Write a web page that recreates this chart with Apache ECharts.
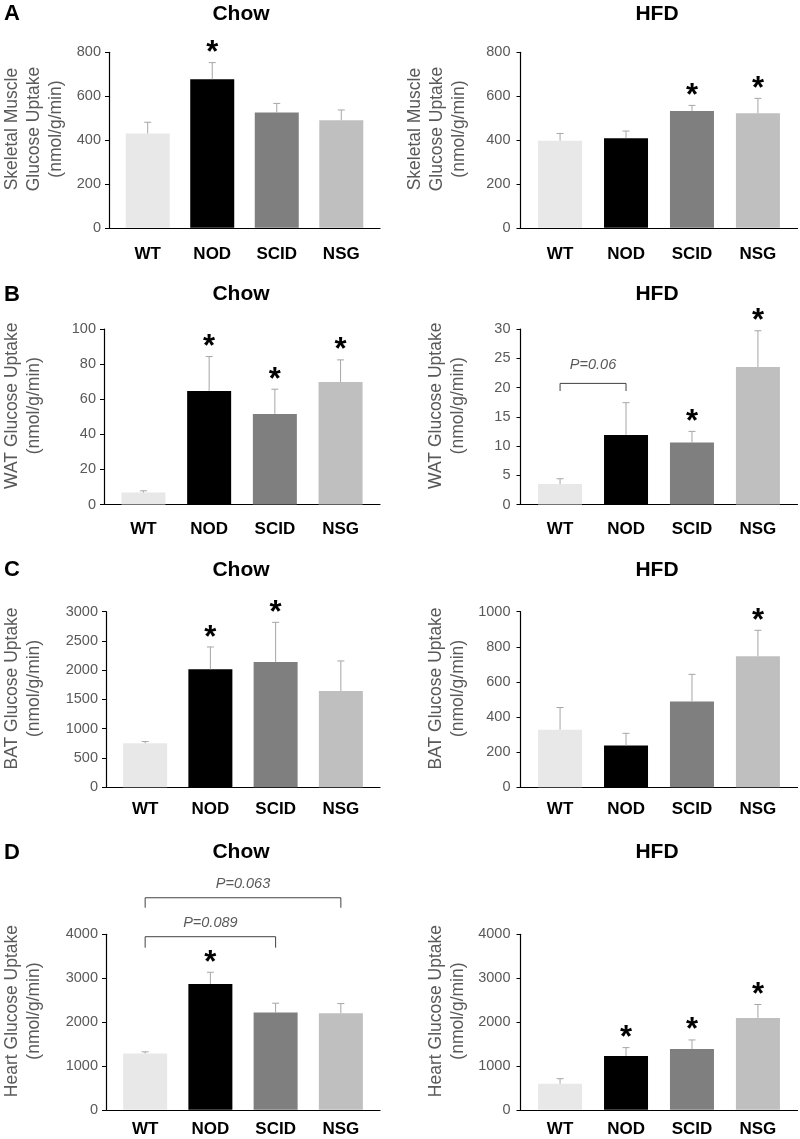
<!DOCTYPE html>
<html><head><meta charset="utf-8">
<script src="https://cdn.jsdelivr.net/npm/echarts@6/dist/echarts.min.js"></script>
<style>html,body{margin:0;padding:0;background:#fff}#c{width:800px;height:1139px}</style>
</head><body><div id="c"></div>
<script>
// ---------- data ----------
const categories = ['WT', 'NOD', 'SCID', 'NSG'];

const muscleChow    = [430, 677, 526, 490];
const muscleChowErr = [51, 76, 41, 47];
const muscleChowSig = [0, 1, 0, 0];
const muscleHFD     = [397, 408, 532, 522];
const muscleHFDErr  = [33, 33, 26, 68];
const muscleHFDSig  = [0, 0, 1, 1];

const watChow    = [6.8, 64.7, 51.6, 69.8];
const watChowErr = [1.0, 19.6, 14.1, 12.6];
const watChowSig = [0, 1, 1, 1];
const watHFD     = [3.5, 11.9, 10.6, 23.5];
const watHFDErr  = [0.9, 5.5, 1.9, 6.2];
const watHFDSig  = [0, 0, 1, 1];

const batChow    = [751, 2015, 2141, 1645];
const batChowErr = [29, 382, 677, 513];
const batChowSig = [0, 1, 1, 0];
const batHFD     = [328, 237, 488, 746];
const batHFDErr  = [126, 70, 155, 148];
const batHFDSig  = [0, 0, 0, 1];

const heartChow    = [1283, 2869, 2216, 2201];
const heartChowErr = [38, 266, 213, 220];
const heartChowSig = [0, 1, 0, 0];
const heartHFD     = [594, 1227, 1387, 2095];
const heartHFDErr  = [115, 190, 205, 305];
const heartHFDSig  = [0, 1, 1, 1];

// brackets: [fromIndex, toIndex, topValue, legValue, label]
const watHFDBrackets   = [[0, 1, 20.7, 19.4, 'P=0.06']];
const heartChowBrackets = [[0, 2, 3945, 3695, 'P=0.089'], [0, 3, 4833, 4606, 'P=0.063']];

const yTicks = {
  muscle: {max: 800, interval: 200},
  watChow: {max: 100, interval: 20},
  watHFD: {max: 30, interval: 5},
  batChow: {max: 3000, interval: 500},
  batHFD: {max: 1000, interval: 200},
  heart: {max: 4000, interval: 1000}
};

// ---------- layout ----------
const FONT = 'Arial, "Liberation Sans", Helvetica, sans-serif';
const barColors = ['#e8e8e8', '#000000', '#7f7f7f', '#bfbfbf'];
const GRID_W = 277, GRID_H = 175.5;
const LEFT_X = 103, RIGHT_X = 520.5;

const panels = [
  {values: muscleChow, err: muscleChowErr, sig: muscleChowSig, ticks: yTicks.muscle, left: LEFT_X, top: 52.3,
   name: 'Skeletal Muscle\nGlucose Uptake\n(nmol/g/min)', nameGap: 42, catMargin: 18, labelMargin: 8},
  {values: muscleHFD, err: muscleHFDErr, sig: muscleHFDSig, ticks: yTicks.muscle, left: RIGHT_X, top: 52.3,
   name: 'Skeletal Muscle\nGlucose Uptake\n(nmol/g/min)', nameGap: 50, catMargin: 18, labelMargin: 10},
  {values: watChow, err: watChowErr, sig: watChowSig, ticks: yTicks.watChow, left: LEFT_X, top: 329,
   name: 'WAT Glucose Uptake\n(nmol/g/min)', nameGap: 59, catMargin: 16, labelMargin: 8},
  {values: watHFD, err: watHFDErr, sig: watHFDSig, ticks: yTicks.watHFD, left: RIGHT_X, top: 329,
   name: 'WAT Glucose Uptake\n(nmol/g/min)', nameGap: 51, catMargin: 16, labelMargin: 10,
   brackets: watHFDBrackets, bracketLabelGap: 18},
  {values: batChow, err: batChowErr, sig: batChowSig, ticks: yTicks.batChow, left: LEFT_X, top: 611.7,
   name: 'BAT Glucose Uptake\n(nmol/g/min)', nameGap: 61, catMargin: 14, labelMargin: 8},
  {values: batHFD, err: batHFDErr, sig: batHFDSig, ticks: yTicks.batHFD, left: RIGHT_X, top: 611.7,
   name: 'BAT Glucose Uptake\n(nmol/g/min)', nameGap: 51, catMargin: 14, labelMargin: 10},
  {values: heartChow, err: heartChowErr, sig: heartChowSig, ticks: yTicks.heart, left: LEFT_X, top: 934.3,
   name: 'Heart Glucose Uptake\n(nmol/g/min)', nameGap: 61, catMargin: 11, labelMargin: 8,
   brackets: heartChowBrackets, bracketLabelGap: 13.5},
  {values: heartHFD, err: heartHFDErr, sig: heartHFDSig, ticks: yTicks.heart, left: RIGHT_X, top: 934.3,
   name: 'Heart Glucose Uptake\n(nmol/g/min)', nameGap: 51, catMargin: 11, labelMargin: 10}
];

const headings = [
  {letter: 'A', y: 14},
  {letter: 'B', y: 294.5},
  {letter: 'C', y: 570},
  {letter: 'D', y: 852.5}
];

const grid = [], xAxis = [], yAxis = [], series = [];
panels.forEach((p, i) => {
  grid.push({left: p.left, top: p.top, width: GRID_W, height: GRID_H, containLabel: false});
  xAxis.push({
    gridIndex: i, type: 'value', min: -0.6, max: 3.6,
    axisLine: {show: true, onZero: false, lineStyle: {color: '#000', width: 1.2}},
    axisTick: {show: false},
    splitLine: {show: false},
    axisLabel: {
      customValues: [0, 1, 2, 3],
      formatter: v => categories[Math.round(v)],
      margin: p.catMargin, color: '#000', fontWeight: 'bold', fontSize: 17, fontFamily: FONT
    }
  });
  yAxis.push({
    gridIndex: i, type: 'value', min: 0, max: p.ticks.max, interval: p.ticks.interval,
    name: p.name, nameLocation: 'middle', nameGap: p.nameGap,
    nameTextStyle: {color: '#595959', fontSize: 17.5, lineHeight: 22, fontFamily: FONT, padding: [0, 0, 0, 22]},
    axisLine: {show: true, onZero: false, lineStyle: {color: '#000', width: 1.2}},
    axisTick: {show: true, length: 4, inside: false, lineStyle: {color: '#000'}},
    splitLine: {show: false},
    axisLabel: {margin: p.labelMargin, color: '#595959', fontSize: 14.5, fontFamily: FONT,
      formatter: v => String(v)}
  });
  series.push({
    type: 'bar', xAxisIndex: i, yAxisIndex: i, barWidth: 44, silent: true,
    data: p.values.map((v, j) => ({value: [j, v], itemStyle: {color: barColors[j]}}))
  });
  series.push({
    type: 'custom', xAxisIndex: i, yAxisIndex: i, silent: true, clip: false, z: 3,
    data: p.values.map((v, j) => [j, v, v + p.err[j], p.sig[j]]),
    renderItem: (params, api) => {
      const x = api.value(0);
      const p0 = api.coord([x, api.value(1)]);
      const p1 = api.coord([x, api.value(2)]);
      const st = {stroke: '#a6a6a6', lineWidth: 1};
      const ch = [
        {type: 'line', shape: {x1: p0[0], y1: p0[1], x2: p1[0], y2: p1[1]}, style: st},
        {type: 'line', shape: {x1: p1[0] - 3.5, y1: p1[1], x2: p1[0] + 3.5, y2: p1[1]}, style: st}
      ];
      if (api.value(3)) {
        ch.push({type: 'text', x: p1[0], y: p1[1] - 9,
          style: {text: '*', font: 'bold 31px ' + FONT, textAlign: 'center', textVerticalAlign: 'middle', fill: '#000'}});
      }
      return {type: 'group', children: ch};
    }
  });
  if (p.brackets) {
    series.push({
      type: 'custom', xAxisIndex: i, yAxisIndex: i, silent: true, clip: false, z: 3,
      data: p.brackets,
      renderItem: (params, api) => {
        const b = p.brackets[params.dataIndex];
        const a1 = api.coord([b[0], b[2]]), a2 = api.coord([b[1], b[2]]);
        const l1 = api.coord([b[0], b[3]]);
        const st = {stroke: '#404040', lineWidth: 1, fill: null};
        return {type: 'group', children: [
          {type: 'polyline', shape: {points: [[a1[0], l1[1]], [a1[0], a1[1]], [a2[0], a2[1]], [a2[0], l1[1]]]}, style: st},
          {type: 'text', x: (a1[0] + a2[0]) / 2, y: a1[1] - p.bracketLabelGap,
           style: {text: b[4], font: 'italic 14.5px ' + FONT, fill: '#595959', textAlign: 'center', textVerticalAlign: 'middle'}}
        ]};
      }
    });
  }
});

const graphic = [];
headings.forEach(h => {
  graphic.push({type: 'text', x: 4, y: h.y, style: {text: h.letter, font: 'bold 22px ' + FONT, fill: '#000', textVerticalAlign: 'middle'}});
  graphic.push({type: 'text', x: 241, y: h.y, style: {text: 'Chow', font: 'bold 21px ' + FONT, fill: '#000', textAlign: 'center', textVerticalAlign: 'middle'}});
  graphic.push({type: 'text', x: 657, y: h.y, style: {text: 'HFD', font: 'bold 21px ' + FONT, fill: '#000', textAlign: 'center', textVerticalAlign: 'middle'}});
});

const chart = echarts.init(document.getElementById('c'), null, {renderer: 'canvas'});
chart.setOption({animation: false, backgroundColor: '#fff', grid, xAxis, yAxis, series, graphic});
</script></body></html>
